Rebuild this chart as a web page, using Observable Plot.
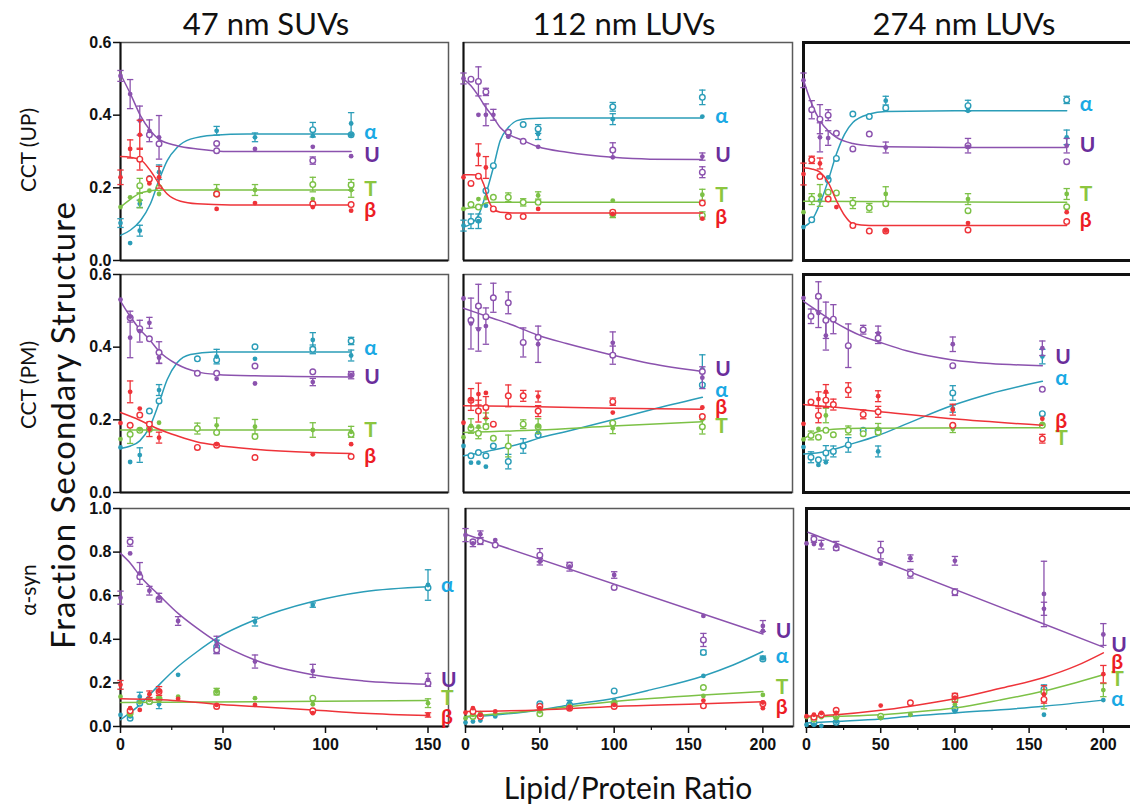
<!DOCTYPE html>
<html><head><meta charset="utf-8">
<script src="https://cdn.jsdelivr.net/npm/d3@7"></script>
<script src="https://cdn.jsdelivr.net/npm/@observablehq/plot@0.6"></script>
<style>
html,body{margin:0;padding:0;background:#fff;width:1130px;height:807px;overflow:hidden;position:relative;font-family:Lato,"Open Sans",sans-serif;}
.p{position:absolute;}
.p svg{max-width:none !important;}
#ov{position:absolute;left:0;top:0;pointer-events:none;}
</style></head><body>
<div id="root"></div>
<script>
// ---------- tick labels ----------
const yTicks06 = [0, 0.2, 0.4, 0.6];
const yTicks10 = [0, 0.2, 0.4, 0.6, 0.8, 1.0];
const xTicksC1 = [0, 50, 100, 150];
const xMinorC1 = [25, 75, 125];
const xTicksC23 = [0, 50, 100, 150, 200];
const xMinorC23 = [25, 75, 125, 175];
const colTitles = ["47 nm SUVs", "112 nm LUVs", "274 nm LUVs"];
const rowTitles = ["CCT (UP)", "CCT (PM)", "α-syn"];
const yTitle = "Fraction Secondary Structure";
const xTitle = "Lipid/Protein Ratio";

// ---------- CCT (UP), 47 nm SUVs ----------
const up47_fit = [
["α",0,0.069],["α",4.9,0.084],["α",9.8,0.110],["α",14.6,0.156],["α",18.7,0.220],["α",22.8,0.275],["α",27.6,0.311],["α",34.1,0.334],["α",45.5,0.345],["α",61.8,0.348],["α",112.5,0.348],
["U",0,0.513],["U",4.9,0.458],["U",9.8,0.398],["U",14.6,0.357],["U",18.7,0.334],["U",27.6,0.316],["U",37.4,0.307],["U",53.6,0.300],["U",112.5,0.300],
["T",0,0.147],["T",4.9,0.169],["T",9.8,0.186],["T",14.6,0.192],["T",18.7,0.194],["T",112.5,0.194],
["β",0,0.286],["β",4.9,0.284],["β",9.8,0.277],["β",14.6,0.247],["β",18.7,0.212],["β",22.8,0.183],["β",29.3,0.163],["β",37.4,0.156],["β",53.6,0.153],["β",112.5,0.153]];
const up47_pts = [
["α",0,0,0.103,0.012],["α",0,4.7,0.048,0],["α",0,9.4,0.082,0.015],["α",0,9.4,0.156,0.01],["α",0,14.1,0.229,0],["α",0,18.8,0.243,0.02],["α",0,46.9,0.357,0.012],["α",0,46.9,0.300,0],["α",0,65.6,0.339,0.012],["α",0,93.8,0.343,0],["α",0,112.5,0.377,0.03],["α",0,112.5,0.346,0],
["α",1,93.8,0.360,0.02],["α",1,112.5,0.346,0],
["U",0,0,0.508,0.015],["U",0,4.7,0.458,0.04],["U",0,9.4,0.385,0.04],["U",0,14.1,0.357,0.03],["U",0,18.8,0.339,0.06],["U",0,65.6,0.307,0],["U",0,93.8,0.313,0],["U",0,112.5,0.287,0],
["U",1,14.1,0.346,0],["U",1,18.8,0.321,0],["U",1,46.9,0.322,0],["U",1,46.9,0.302,0],["U",1,93.8,0.275,0.01],
["T",0,0,0.147,0],["T",0,4.7,0.174,0],["T",0,9.4,0.165,0.02],["T",0,14.1,0.192,0],["T",0,18.8,0.183,0],["T",0,46.9,0.194,0.015],["T",0,65.6,0.194,0.015],["T",0,93.8,0.169,0],["T",0,112.5,0.194,0.02],
["T",1,9.4,0.206,0.02],["T",1,18.8,0.200,0],["T",1,46.9,0.183,0],["T",1,93.8,0.209,0.02],["T",1,112.5,0.208,0.015],
["β",0,0,0.229,0.02],["β",0,4.7,0.307,0.025],["β",0,9.4,0.346,0.04],["β",0,14.1,0.212,0],["β",0,18.8,0.229,0.03],["β",0,46.9,0.142,0],["β",0,65.6,0.158,0],["β",0,93.8,0.147,0],["β",0,112.5,0.137,0],
["β",1,9.4,0.279,0.03],["β",1,14.1,0.224,0],["β",1,46.9,0.183,0],["β",1,93.8,0.156,0],["β",1,112.5,0.154,0]];
const up47_lab = [["α",0.353],["U",0.289],["T",0.195],["β",0.137]];

// ---------- CCT (UP), 112 nm LUVs ----------
const up112_fit = [
["α",0,0.092],["α",5,0.101],["α",10,0.124],["α",15,0.183],["α",20,0.256],["α",24.6,0.330],["α",30,0.366],["α",35.8,0.385],["α",42.5,0.390],["α",58.2,0.392],["α",160,0.392],
["U",0,0.499],["U",5,0.481],["U",10,0.453],["U",15,0.421],["U",20,0.394],["U",24.6,0.366],["U",30,0.348],["U",40,0.330],["U",50,0.313],["U",69.4,0.298],["U",100,0.284],["U",125,0.279],["U",160,0.278],
["T",0,0.142],["T",5,0.145],["T",10,0.148],["T",15,0.158],["T",20,0.160],["T",160,0.160],
["β",0,0.236],["β",5,0.236],["β",10,0.235],["β",13.4,0.211],["β",16.8,0.165],["β",20,0.142],["β",24.6,0.133],["β",35.8,0.131],["β",160,0.131]];
const up112_pts = [
["α",0,0,0.096,0.015],["α",0,10,0.108,0.02],["α",0,15,0.151,0],["α",0,30,0.341,0],["α",0,50,0.348,0.015],["α",0,100,0.389,0.015],["α",0,160,0.396,0],
["α",1,5,0.108,0.02],["α",1,10,0.112,0],["α",1,15,0.192,0],["α",1,20,0.261,0],["α",1,30,0.353,0],["α",1,40,0.374,0],["α",1,50,0.362,0.012],["α",1,100,0.423,0.012],["α",1,160,0.449,0.02],
["U",0,0,0.501,0.015],["U",0,10,0.401,0],["U",0,15,0.401,0.03],["U",0,20,0.401,0.015],["U",0,30,0.341,0],["U",0,50,0.313,0],["U",0,100,0.284,0],["U",0,160,0.286,0.01],
["U",1,5,0.499,0],["U",1,10,0.493,0.04],["U",1,15,0.464,0.01],["U",1,30,0.353,0],["U",1,40,0.328,0],["U",1,100,0.304,0.02],["U",1,160,0.243,0.015],
["T",0,0,0.142,0],["T",0,10,0.169,0],["T",0,15,0.172,0],["T",0,50,0.179,0.01],["T",0,100,0.165,0],["T",0,160,0.181,0.015],
["T",1,5,0.154,0],["T",1,10,0.147,0],["T",1,20,0.174,0],["T",1,30,0.174,0.012],["T",1,40,0.160,0.01],["T",1,50,0.160,0],["T",1,100,0.128,0.01],["T",1,160,0.124,0.01],
["β",0,0,0.229,0],["β",0,10,0.291,0.03],["β",0,15,0.256,0.03],["β",0,50,0.142,0],["β",0,100,0.128,0],["β",0,160,0.115,0],
["β",1,5,0.212,0],["β",1,10,0.232,0],["β",1,20,0.142,0],["β",1,30,0.121,0],["β",1,40,0.121,0],["β",1,100,0.133,0],["β",1,160,0.158,0]];
const up112_lab = [["α",0.396],["U",0.289],["T",0.179],["β",0.119]];

// ---------- CCT (UP), 274 nm LUVs ----------
const up274_fit = [
["α",0,0.092],["α",5,0.110],["α",10,0.156],["α",15,0.220],["α",20,0.293],["α",25,0.348],["α",30,0.380],["α",40,0.403],["α",50,0.410],["α",100,0.412],["α",160,0.412],
["U",0,0.496],["U",5,0.431],["U",10,0.385],["U",15,0.357],["U",20,0.339],["U",30,0.322],["U",40,0.316],["U",50,0.313],["U",100,0.311],["U",160,0.311],
["T",0,0.163],["T",160,0.160],
["β",0,0.255],["β",5,0.252],["β",10,0.243],["β",15,0.215],["β",20,0.165],["β",25,0.124],["β",30,0.101],["β",40,0.096],["β",160,0.096]];
const up274_pts = [
["α",0,0,0.092,0],["α",0,10,0.165,0],["α",0,15,0.229,0],["α",0,50,0.440,0.012],["α",0,100,0.412,0],["α",0,160,0.339,0.02],
["α",1,5,0.112,0],["α",1,15,0.222,0],["α",1,20,0.281,0],["α",1,30,0.403,0],["α",1,40,0.396,0],["α",1,50,0.420,0],["α",1,100,0.426,0.015],["α",1,160,0.442,0.01],
["U",0,0,0.496,0.02],["U",0,10,0.339,0.04],["U",0,15,0.337,0.02],["U",0,50,0.311,0.015],["U",0,100,0.313,0],["U",0,160,0.316,0.02],
["U",1,5,0.415,0.025],["U",1,10,0.389,0.04],["U",1,15,0.400,0.015],["U",1,20,0.350,0],["U",1,30,0.307,0],["U",1,40,0.348,0],["U",1,100,0.316,0.02],["U",1,160,0.272,0],
["T",0,0,0.133,0],["T",0,10,0.179,0.03],["T",0,50,0.183,0.02],["T",0,100,0.169,0.015],["T",0,160,0.183,0.015],
["T",1,5,0.169,0.015],["T",1,15,0.188,0],["T",1,20,0.186,0],["T",1,30,0.158,0.015],["T",1,40,0.145,0.012],["T",1,50,0.156,0],["T",1,100,0.137,0],["T",1,160,0.148,0],
["β",0,0,0.238,0.03],["β",0,10,0.267,0.015],["β",0,20,0.147,0],["β",0,50,0.082,0],["β",0,100,0.103,0],["β",0,160,0.133,0],
["β",1,5,0.277,0.01],["β",1,10,0.231,0],["β",1,15,0.169,0],["β",1,30,0.096,0],["β",1,40,0.081,0],["β",1,50,0.081,0],["β",1,100,0.084,0],["β",1,160,0.107,0]];
const up274_lab = [["α",0.430],["U",0.316],["T",0.183],["β",0.110]];

// ---------- CCT (PM), 47 nm SUVs ----------
const pm47_fit = [
["α",0,0.121],["α",4.9,0.128],["α",9.4,0.142],["α",14.1,0.179],["α",18.8,0.247],["α",22.8,0.311],["α",27.6,0.357],["α",34.1,0.380],["α",45.5,0.387],["α",112.5,0.387],
["U",0,0.527],["U",4.7,0.485],["U",9.4,0.449],["U",14.1,0.421],["U",18.8,0.389],["U",27.6,0.353],["U",37.5,0.332],["U",46.9,0.325],["U",65.6,0.321],["U",112.5,0.318],
["T",0,0.172],["T",112.5,0.172],
["β",0,0.220],["β",9.4,0.199],["β",18.8,0.174],["β",27.6,0.156],["β",37.5,0.139],["β",46.9,0.130],["β",65.6,0.119],["β",93.8,0.110],["β",112.5,0.107]];
const pm47_pts = [
["α",0,0,0.124,0],["α",0,4.7,0.084,0],["α",0,9.4,0.103,0.02],["α",0,18.8,0.282,0.015],["α",0,46.9,0.374,0.02],["α",0,65.6,0.368,0],["α",0,93.8,0.420,0.02],["α",0,112.5,0.377,0.015],
["α",1,14.1,0.224,0],["α",1,18.8,0.252,0],["α",1,37.5,0.368,0],["α",1,46.9,0.365,0],["α",1,65.6,0.401,0],["α",1,93.8,0.394,0.012],["α",1,112.5,0.417,0.01],
["U",0,0,0.531,0],["U",0,4.7,0.484,0.015],["U",0,4.7,0.426,0.055],["U",0,9.4,0.444,0.03],["U",0,14.1,0.467,0.015],["U",0,18.8,0.371,0.015],["U",0,46.9,0.313,0],["U",0,65.6,0.300,0],["U",0,93.8,0.304,0.01],["U",0,112.5,0.323,0.01],
["U",1,4.7,0.481,0],["U",1,9.4,0.451,0],["U",1,14.1,0.423,0],["U",1,18.8,0.385,0.03],["U",1,37.5,0.328,0],["U",1,46.9,0.328,0],["U",1,65.6,0.348,0],["U",1,93.8,0.332,0],["U",1,112.5,0.325,0],
["T",0,0,0.147,0],["T",0,9.4,0.174,0],["T",0,18.8,0.192,0],["T",0,46.9,0.185,0.02],["T",0,65.6,0.181,0.02],["T",0,93.8,0.172,0.02],["T",0,112.5,0.167,0.015],
["T",1,4.7,0.160,0.025],["T",1,9.4,0.171,0],["T",1,14.1,0.174,0],["T",1,37.5,0.176,0.015],["T",1,46.9,0.165,0],["T",1,65.6,0.154,0],["T",1,112.5,0.160,0],
["β",0,0,0.191,0],["β",0,4.7,0.277,0.03],["β",0,9.4,0.231,0],["β",0,14.1,0.174,0.02],["β",0,18.8,0.151,0.015],["β",0,46.9,0.133,0],["β",0,93.8,0.105,0],["β",0,112.5,0.133,0],
["β",1,4.7,0.185,0],["β",1,9.4,0.213,0],["β",1,14.1,0.188,0],["β",1,37.5,0.124,0],["β",1,46.9,0.130,0],["β",1,65.6,0.096,0],["β",1,112.5,0.099,0]];
const pm47_lab = [["α",0.398],["U",0.316],["T",0.172],["β",0.101]];

// ---------- CCT (PM), 112 nm LUVs ----------
const pm112_fit = [
["U",0,0.507],["U",10,0.493],["U",20,0.479],["U",30,0.465],["U",40,0.449],["U",50,0.433],["U",69,0.410],["U",100,0.378],["U",125,0.355],["U",160,0.333],
["α",0,0.101],["α",10,0.108],["α",20,0.117],["α",40,0.136],["α",50,0.149],["α",69,0.168],["α",100,0.200],["α",125,0.227],["α",160,0.262],
["β",0,0.239],["β",50,0.236],["β",100,0.232],["β",160,0.229],
["T",0,0.165],["T",50,0.172],["T",100,0.183],["T",160,0.195]];
const pm112_pts = [
["U",0,0,0.534,0],["U",0,5,0.465,0.07],["U",0,10,0.449,0.06],["U",0,15,0.458,0.05],["U",0,50,0.408,0.05],["U",0,100,0.412,0.03],["U",0,160,0.316,0.03],
["U",1,5,0.474,0],["U",1,10,0.513,0.06],["U",1,15,0.484,0],["U",1,20,0.536,0.04],["U",1,30,0.522,0.03],["U",1,40,0.413,0.04],["U",1,50,0.427,0],["U",1,100,0.378,0.025],["U",1,160,0.333,0],
["α",0,0,0.128,0],["α",0,5,0.082,0],["α",0,10,0.082,0],["α",0,15,0.071,0],["α",0,50,0.165,0],["α",0,160,0.339,0.04],
["α",1,5,0.101,0],["α",1,10,0.110,0],["α",1,15,0.101,0],["α",1,20,0.128,0],["α",1,30,0.085,0.02],["α",1,40,0.128,0.02],["α",1,50,0.158,0],["α",1,160,0.296,0],
["β",0,0,0.192,0],["β",0,5,0.256,0.03],["β",0,10,0.271,0.03],["β",0,15,0.274,0],["β",0,50,0.264,0.015],["β",0,100,0.220,0],["β",0,160,0.234,0],
["β",1,5,0.254,0],["β",1,10,0.224,0.03],["β",1,15,0.234,0.03],["β",1,20,0.188,0],["β",1,30,0.266,0.03],["β",1,40,0.266,0.015],["β",1,50,0.224,0.015],["β",1,100,0.250,0.01],["β",1,160,0.209,0],
["T",0,0,0.152,0],["T",0,5,0.183,0.02],["T",0,10,0.181,0],["T",0,15,0.204,0.015],["T",0,50,0.183,0.02],["T",0,100,0.177,0.015],["T",0,160,0.201,0],
["T",1,5,0.177,0],["T",1,10,0.163,0.015],["T",1,15,0.181,0],["T",1,20,0.149,0],["T",1,30,0.128,0.03],["T",1,40,0.188,0.012],["T",1,50,0.181,0],["T",1,100,0.191,0],["T",1,160,0.181,0.02]];
const pm112_lab = [["U",0.339],["α",0.282],["β",0.234],["T",0.181]];

// ---------- CCT (PM), 274 nm LUVs ----------
const pm274_fit = [
["U",0,0.526],["U",10,0.498],["U",20,0.471],["U",30,0.448],["U",40,0.429],["U",50,0.415],["U",69,0.390],["U",100,0.365],["U",125,0.355],["U",160,0.349],
["α",0,0.106],["α",15,0.113],["α",30,0.131],["α",50,0.157],["α",69,0.189],["α",100,0.240],["α",125,0.272],["α",160,0.306],
["β",0,0.242],["β",20,0.235],["β",50,0.223],["β",100,0.203],["β",160,0.185],
["T",0,0.148],["T",10,0.168],["T",20,0.174],["T",40,0.177],["T",160,0.178]];
const pm274_pts = [
["U",0,0,0.535,0],["U",0,10,0.494,0.04],["U",0,15,0.432,0.04],["U",0,50,0.438,0.02],["U",0,100,0.408,0.02],["U",0,160,0.397,0.02],
["U",1,5,0.485,0.02],["U",1,10,0.540,0.04],["U",1,15,0.474,0.05],["U",1,20,0.477,0.04],["U",1,30,0.404,0.06],["U",1,40,0.448,0.012],["U",1,50,0.425,0.015],["U",1,100,0.349,0],["U",1,160,0.284,0],
["α",0,0,0.125,0],["α",0,10,0.076,0],["α",0,15,0.083,0],["α",0,50,0.113,0.015],["α",0,100,0.231,0.01],["α",0,160,0.374,0.02],
["α",1,5,0.097,0.015],["α",1,10,0.090,0],["α",1,15,0.109,0.02],["α",1,20,0.113,0.015],["α",1,30,0.131,0.02],["α",1,40,0.171,0],["α",1,50,0.171,0],["α",1,100,0.274,0.02],["α",1,160,0.217,0],
["β",0,0,0.189,0],["β",0,10,0.257,0.02],["β",0,15,0.277,0.02],["β",0,50,0.265,0.015],["β",0,100,0.228,0.015],["β",0,160,0.203,0],
["β",1,5,0.249,0],["β",1,10,0.212,0.02],["β",1,15,0.254,0.02],["β",1,20,0.242,0.015],["β",1,30,0.282,0.02],["β",1,40,0.215,0.012],["β",1,50,0.222,0.015],["β",1,100,0.185,0],["β",1,160,0.148,0.012],
["T",0,0,0.146,0],["T",0,10,0.175,0],["T",0,15,0.212,0.02],["T",0,50,0.175,0.015],["T",0,100,0.175,0.01],["T",0,160,0.189,0],
["T",1,5,0.157,0.012],["T",1,10,0.152,0],["T",1,15,0.171,0],["T",1,20,0.159,0],["T",1,30,0.171,0.012],["T",1,40,0.162,0],["T",1,50,0.166,0],["T",1,100,0.183,0],["T",1,160,0.185,0]];
const pm274_lab = [["U",0.371],["α",0.314],["β",0.196],["T",0.148]];

// ---------- α-syn, 47 nm SUVs ----------
const as47_fit = [
["U",0,0.794],["U",4.9,0.748],["U",9.8,0.687],["U",18.8,0.603],["U",28.1,0.519],["U",37.5,0.450],["U",46.9,0.389],["U",65.6,0.305],["U",93.8,0.237],["U",118.6,0.209],["U",150,0.194],
["α",0,0.031],["α",9.4,0.099],["α",18.8,0.191],["α",28.1,0.275],["α",37.5,0.344],["α",46.9,0.405],["α",65.6,0.489],["α",93.8,0.573],["α",118.6,0.618],["α",150,0.641],
["T",0,0.110],["T",150,0.119],
["β",0,0.127],["β",28.1,0.118],["β",46.9,0.102],["β",65.6,0.092],["β",93.8,0.076],["β",118.6,0.061],["β",150,0.050]];
const as47_pts = [
["U",0,0,0.591,0.03],["U",0,4.7,0.794,0],["U",0,9.4,0.702,0.05],["U",0,14.1,0.623,0.02],["U",0,18.8,0.591,0.02],["U",0,28.1,0.484,0.02],["U",0,46.9,0.374,0.04],["U",0,65.6,0.298,0.03],["U",0,93.8,0.255,0.03],["U",0,150,0.214,0.03],
["U",1,4.7,0.847,0.02],["U",1,9.4,0.687,0],["U",1,18.8,0.585,0],["U",1,46.9,0.351,0],["U",1,150,0.198,0],
["α",0,0,0.053,0],["α",0,4.7,0.046,0],["α",0,9.4,0.137,0.02],["α",0,18.8,0.102,0.02],["α",0,28.1,0.237,0],["α",0,46.9,0.389,0],["α",0,65.6,0.481,0.02],["α",0,93.8,0.557,0.01],["α",0,150,0.649,0.07],
["α",1,4.7,0.038,0],["α",1,9.4,0.107,0],["α",1,14.1,0.115,0],["α",1,46.9,0.366,0.03],["α",1,150,0.637,0],
["T",0,0,0.137,0],["T",0,4.7,0.053,0],["T",0,9.4,0.111,0],["T",0,14.1,0.122,0],["T",0,18.8,0.127,0],["T",0,28.1,0.137,0],["T",0,46.9,0.160,0.015],["T",0,65.6,0.130,0],["T",0,93.8,0.102,0],["T",0,150,0.107,0.02],
["T",1,4.7,0.061,0],["T",1,14.1,0.115,0],["T",1,18.8,0.127,0],["T",1,46.9,0.157,0],["T",1,93.8,0.130,0],
["β",0,0,0.191,0.02],["β",0,4.7,0.084,0],["β",0,9.4,0.076,0],["β",0,14.1,0.148,0.015],["β",0,18.8,0.163,0.02],["β",0,28.1,0.127,0],["β",0,46.9,0.099,0],["β",0,65.6,0.099,0],["β",0,93.8,0.061,0],["β",0,150,0.053,0.01],
["β",1,4.7,0.072,0],["β",1,18.8,0.160,0],["β",1,46.9,0.092,0],["β",1,93.8,0.072,0]];
const as47_lab = [["α",0.646],["U",0.214],["T",0.130],["β",0.041]];

// ---------- α-syn, 112 nm LUVs ----------
const as112_fit = [
["U",0,0.882],["U",200,0.424],
["α",0,0.043],["α",20,0.053],["α",50,0.076],["α",70,0.099],["α",100,0.130],["α",124.4,0.168],["α",160,0.232],["α",180,0.282],["α",200,0.344],
["T",0,0.046],["T",50,0.076],["T",100,0.115],["T",160,0.145],["T",200,0.160],
["β",0,0.069],["β",50,0.076],["β",100,0.092],["β",160,0.104],["β",200,0.113]];
const as112_pts = [
["U",0,0,0.878,0.03],["U",0,5,0.840,0.015],["U",0,10,0.882,0.015],["U",0,20,0.855,0],["U",0,50,0.756,0.015],["U",0,70,0.733,0.02],["U",0,100,0.695,0.015],["U",0,160,0.507,0],["U",0,200,0.461,0.025],["U",0,200,0.438,0],
["U",1,5,0.847,0],["U",1,10,0.850,0.015],["U",1,20,0.832,0],["U",1,50,0.786,0.03],["U",1,70,0.740,0],["U",1,100,0.638,0],["U",1,160,0.397,0.03],
["α",0,0,0.018,0],["α",0,5,0.023,0],["α",0,10,0.027,0],["α",0,20,0.046,0],["α",0,50,0.099,0],["α",0,70,0.110,0.01],["α",0,100,0.119,0],["α",0,160,0.232,0],["α",0,200,0.313,0.01],
["α",1,50,0.104,0],["α",1,70,0.099,0],["α",1,100,0.163,0],["α",1,160,0.340,0.01],["α",1,200,0.310,0],
["T",0,0,0.038,0],["T",0,5,0.053,0],["T",0,10,0.061,0],["T",0,20,0.058,0],["T",0,50,0.069,0],["T",0,70,0.095,0],["T",0,100,0.110,0],["T",0,160,0.140,0],["T",0,200,0.145,0],
["T",1,5,0.046,0],["T",1,50,0.058,0],["T",1,100,0.107,0],["T",1,160,0.179,0],
["β",0,0,0.064,0],["β",0,5,0.084,0],["β",0,10,0.053,0],["β",0,20,0.069,0],["β",0,50,0.084,0],["β",0,70,0.084,0],["β",0,100,0.099,0],["β",0,160,0.119,0],["β",0,200,0.084,0],["β",0,200,0.110,0],
["β",1,5,0.069,0],["β",1,10,0.046,0],["β",1,50,0.092,0],["β",1,70,0.084,0],["β",1,100,0.092,0],["β",1,160,0.095,0],["β",1,200,0.104,0]];
const as112_lab = [["U",0.435],["α",0.321],["T",0.180],["β",0.089]];

// ---------- α-syn, 274 nm LUVs ----------
const as274_fit = [
["U",1,0.891],["U",200,0.364],
["β",0,0.047],["β",20,0.054],["β",50,0.074],["β",70,0.093],["β",100,0.127],["β",130,0.174],["β",160,0.225],["β",182,0.279],["β",200,0.338],
["T",0,0.043],["T",20,0.047],["T",50,0.054],["T",70,0.065],["T",100,0.085],["T",130,0.121],["T",160,0.163],["T",182,0.202],["T",200,0.237],
["α",0,0.016],["α",20,0.023],["α",50,0.034],["α",70,0.047],["α",100,0.062],["α",160,0.093],["α",200,0.121]];
const as274_pts = [
["U",0,0,0.840,0],["U",0,5,0.837,0],["U",0,10,0.834,0.02],["U",0,20,0.829,0.02],["U",0,50,0.747,0],["U",0,70,0.772,0.015],["U",0,100,0.760,0.02],["U",0,160,0.608,0.15],["U",0,160,0.540,0.03],["U",0,200,0.422,0.05],
["U",1,5,0.860,0.015],["U",1,20,0.819,0],["U",1,50,0.809,0.04],["U",1,70,0.701,0.02],["U",1,100,0.616,0.015],
["β",0,0,0.047,0],["β",0,5,0.054,0],["β",0,10,0.062,0],["β",0,20,0.062,0],["β",0,50,0.096,0],["β",0,100,0.132,0.02],["β",0,160,0.147,0.04],["β",0,200,0.240,0.04],
["β",1,5,0.043,0],["β",1,10,0.054,0],["β",1,20,0.074,0],["β",1,70,0.109,0],["β",1,100,0.140,0],["β",1,160,0.124,0],
["T",0,0,0.043,0],["T",0,5,0.043,0],["T",0,10,0.043,0],["T",0,20,0.039,0],["T",0,50,0.039,0],["T",0,70,0.054,0],["T",0,100,0.101,0],["T",0,160,0.121,0.04],["T",0,200,0.167,0.03],
["T",1,5,0.034,0],["T",1,20,0.047,0],["T",1,50,0.047,0],["T",1,100,0.124,0],["T",1,160,0.158,0],
["α",0,0,0.008,0],["α",0,5,0.008,0],["α",0,10,0.003,0],["α",0,20,0.023,0],["α",0,50,0.039,0],["α",0,70,0.054,0],["α",0,100,0.070,0],["α",0,160,0.054,0],["α",0,200,0.121,0],
["α",1,5,0.016,0],["α",1,20,0.019,0],["α",1,100,0.081,0],["α",1,160,0.171,0.02]];
const as274_lab = [["U",0.372],["β",0.295],["T",0.217],["α",0.124]];

// ---------- styling ----------
const SERIES = ["α","U","T","β"];
const LINE = {"α":"#2b9db8","U":"#8b52ae","T":"#7cc146","β":"#ee3339"};
const LABC = {"α":"#1aa9e4","U":"#6a2e9b","T":"#8cc63f","β":"#ed1c24"};
const hcap = {draw(ctx, size){ const r = Math.sqrt(size); ctx.moveTo(-r,0); ctx.lineTo(r,0); }};

const rowsGeo = [{t:42,b:260},{t:274,b:492},{t:508,b:726}];
const panels = [
  {fit:up47_fit, pts:up47_pts, lab:up47_lab, row:0, l:120, r:448, xmax:160, ymax:0.6, yTicks:yTicks06},
  {fit:up112_fit, pts:up112_pts, lab:up112_lab, row:0, l:463, r:792, xmax:220.4, ymax:0.6},
  {fit:up274_fit, pts:up274_pts, lab:up274_lab, row:0, l:803, r:1132, xmax:200, ymax:0.6, heavy:true},
  {fit:pm47_fit, pts:pm47_pts, lab:pm47_lab, row:1, l:120, r:448, xmax:160, ymax:0.6, yTicks:yTicks06},
  {fit:pm112_fit, pts:pm112_pts, lab:pm112_lab, row:1, l:463, r:792, xmax:220.4, ymax:0.6},
  {fit:pm274_fit, pts:pm274_pts, lab:pm274_lab, row:1, l:803, r:1132, xmax:220.4, ymax:0.6, heavy:true},
  {fit:as47_fit, pts:as47_pts, lab:as47_lab, row:2, l:120, r:448, xmax:160, ymax:1.0, yTicks:yTicks10, xTicks:xTicksC1, xMinor:xMinorC1},
  {fit:as112_fit, pts:as112_pts, lab:as112_lab, row:2, l:465, r:793, xmax:220.6, ymax:1.0, xTicks:xTicksC23, xMinor:xMinorC23},
  {fit:as274_fit, pts:as274_pts, lab:as274_lab, row:2, l:806, r:1134, xmax:221, ymax:1.0, xTicks:xTicksC23, xMinor:xMinorC23, heavy:true, labDx:8}
];

const root = document.getElementById("root");
for (const p of panels) {
  const {t, b} = rowsGeo[p.row];
  const mL = 50, mR = 40, mT = 10, mB = 34;
  const W = p.r - p.l + mL + mR, H = b - t + mT + mB;
  const pts = p.pts.map(([s,o,x,y,e]) => ({s,o,x,y,e}));
  const fit = p.fit.map(([s,x,y]) => ({s,x,y}));
  const marks = [];
  marks.push(Plot.frame({stroke: p.heavy ? "#111" : "#5a5a5a", strokeWidth: p.heavy ? 3 : 1.5}));
  marks.push(Plot.ruleX([0], {stroke:"#111", strokeWidth: p.heavy ? 3 : 2}));
  marks.push(Plot.ruleY([0], {stroke:"#111", strokeWidth: p.heavy ? 3 : 2}));
  if (p.yTicks) marks.push(Plot.axisY(p.yTicks, {label:null, tickFormat:d => d.toFixed(1), tickSize:7, tickPadding:2, strokeWidth:1.5, fontSize:16, fontWeight:"bold", fontFamily:"'Liberation Sans', Arial, sans-serif"}));
  if (p.xTicks) {
    marks.push(Plot.axisX(p.xTicks, {label:null, tickSize:7, tickPadding:5, strokeWidth:1.5, fontSize:16, fontWeight:"bold", fontFamily:"'Liberation Sans', Arial, sans-serif"}));
    marks.push(Plot.axisX(p.xMinor, {label:null, tickSize:4, strokeWidth:1.2, tickFormat:() => ""}));
  }
  for (const s of SERIES) {
    const c = LINE[s];
    const f = fit.filter(d => d.s === s);
    const ps = pts.filter(d => d.s === s);
    const errs = ps.filter(d => d.e > 0);
    const caps = errs.flatMap(d => [{x:d.x, y:d.y + d.e}, {x:d.x, y:d.y - d.e}]);
    marks.push(Plot.line(f, {x:"x", y:"y", stroke:c, strokeWidth:1.5, curve:"monotone-x"}));
    marks.push(Plot.ruleX(errs, {x:"x", y1:d => d.y - d.e, y2:d => d.y + d.e, stroke:c, strokeWidth:1.3}));
    marks.push(Plot.dot(caps, {x:"x", y:"y", symbol:hcap, r:1.8, stroke:c, fill:"none", strokeWidth:1.3}));
    marks.push(Plot.dot(ps.filter(d => d.o), {x:"x", y:"y", r:2.8, fill:"white", stroke:c, strokeWidth:1.4}));
    marks.push(Plot.dot(ps.filter(d => !d.o), {x:"x", y:"y", r:2.4, fill:c}));
  }
  const lastX = d3.max(fit, d => d.x);
  const lab = p.lab.map(([s,y]) => ({s, y, x:lastX}));
  for (const s of SERIES) {
    marks.push(Plot.text(lab.filter(d => d.s === s), {x:"x", y:"y", text:"s", dx:p.labDx ?? 13, textAnchor:"start", fill:LABC[s], fontSize:21, fontWeight:"bold", fontFamily:"Lato, 'Open Sans', sans-serif"}));
  }
  const svg = Plot.plot({
    width: W, height: H, marginLeft: mL, marginRight: mR, marginTop: mT, marginBottom: mB,
    x: {domain:[0, p.xmax], axis:null},
    y: {domain:[0, p.ymax], axis:null},
    style: {background:"transparent", overflow:"visible", color:"#111", fontFamily:"Lato, sans-serif", maxWidth:"none"},
    marks
  });
  const div = document.createElement("div");
  div.className = "p";
  div.style.left = (p.l - mL) + "px";
  div.style.top = (t - mT) + "px";
  div.style.width = W + "px";
  div.style.height = H + "px";
  div.appendChild(svg);
  root.appendChild(div);
}

// ---------- overlay text (titles, axis titles) ----------
const NS = "http://www.w3.org/2000/svg";
const ov = document.createElementNS(NS, "svg");
ov.setAttribute("id", "ov"); ov.setAttribute("width", 1130); ov.setAttribute("height", 807);
function addText(str, x, y, size, rot, spacing) {
  const el = document.createElementNS(NS, "text");
  el.textContent = str;
  el.setAttribute("text-anchor", "middle");
  el.setAttribute("font-family", "Lato, 'Open Sans', sans-serif");
  el.setAttribute("font-size", size);
  el.setAttribute("fill", "#111");
  if (spacing) el.setAttribute("letter-spacing", spacing);
  if (rot) el.setAttribute("transform", `translate(${x},${y}) rotate(-90)`);
  else { el.setAttribute("x", x); el.setAttribute("y", y); }
  ov.appendChild(el);
}
const titleX = [266, 624, 964];
colTitles.forEach((s, i) => addText(s, titleX[i], 35, 31, false));
const rowY = [150, 385, 590];
rowTitles.forEach((s, i) => addText(s, 36, rowY[i], 21, true));
addText(yTitle, 75, 425, 33, true, 1);
addText(xTitle, 628, 799, 30, false);
document.body.appendChild(ov);
</script>
</body></html>
